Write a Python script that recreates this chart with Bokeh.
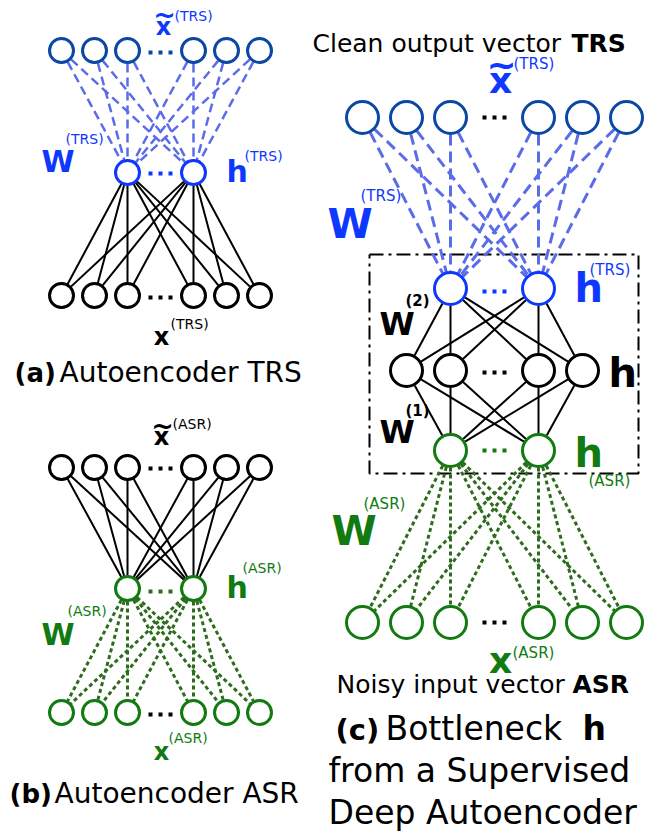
import math
from bokeh.plotting import figure
from bokeh.models import Range1d
from bokeh.core.properties import value
from bokeh.embed import file_html
from bokeh.resources import INLINE

# ---------------- data (diagram content) ----------------
io_units = [0, 1, 2, 4, 5, 6]        # visible units of input/output layers (slot 3 = ellipsis)
hid_units = [2, 4]                   # visible units of the small hidden layers
bn_units = [1, 2, 4, 5]              # visible units of the bottleneck layer
caption_a = ["(a)", "Autoencoder TRS"]
caption_b = ["(b)", "Autoencoder ASR"]
caption_c = ["(c)", "Bottleneck", "h", "from a Supervised", "Deep Autoencoder"]
top_c = ["Clean output vector", "TRS"]
bot_c = ["Noisy input vector", "ASR"]

FONT = value("DejaVu Sans")
DARKBLUE = "#0b48a6"
BLUE = "#0f38ff"
LBLUE = "#5a6ce8"
GREEN = "#117a11"
DGREEN = "#2c6c1c"
BLACK = "#000000"

p = figure(width=646, height=835, x_range=Range1d(0, 646), y_range=Range1d(835, 0),
           output_backend="svg", toolbar_location=None, min_border=0)
p.axis.visible = False
p.grid.visible = False
p.outline_line_color = None
p.background_fill_color = "white"
p.border_fill_color = "white"


def layer(units, x0, dx, y):
    return [(x0 + dx * u, y) for u in units]


def edges(A, ra, B, rb, color, width, dash=None):
    x0s, y0s, x1s, y1s = [], [], [], []
    for (ax, ay) in A:
        for (bx, by) in B:
            d = math.hypot(bx - ax, by - ay)
            ux, uy = (bx - ax) / d, (by - ay) / d
            x0s.append(ax + ux * ra); y0s.append(ay + uy * ra)
            x1s.append(bx - ux * rb); y1s.append(by - uy * rb)
    kw = dict(line_color=color, line_width=width)
    if dash:
        kw["line_dash"] = dash
    p.segment(x0s, y0s, x1s, y1s, **kw)


def nodes(L, r, color, lw=3):
    p.circle([a for a, _ in L], [b for _, b in L], radius=r, fill_color="white",
             line_color=color, line_width=lw)


def dots(xc, y, color, span=24):
    p.segment([xc - span / 2], [y], [xc + span / 2], [y], line_color=color,
              line_width=4, line_dash="4 6", line_cap="butt")


def txt(x, y, s, size, color=BLACK, bold=False, align="left", base="alphabetic"):
    # y given as baseline for "alphabetic"; converted to a middle anchor
    if base == "alphabetic":
        y = y - 0.36 * size
    p.text([x], [y], text=[s], text_font=FONT, text_font_size=f"{size}px",
           text_font_style="bold" if bold else "normal", text_color=color,
           text_align=align, text_baseline="middle")


# ---------------- panel (a) ----------------
X0, DX, R = 61, 33, 12
a_top = layer(io_units, X0, DX, 50)
a_hid = layer(hid_units, X0, DX, 172)
a_bot = layer(io_units, X0, DX, 295)
edges(a_top, R + 1, a_hid, R + 1, LBLUE, 2.5, "9 5")
edges(a_hid, R + 1, a_bot, R + 1, BLACK, 2)
nodes(a_top, R, DARKBLUE)
nodes(a_hid, R, BLUE)
nodes(a_bot, R, BLACK)
dots(X0 + 3 * DX, 52, DARKBLUE)
dots(X0 + 3 * DX, 173, BLUE)
dots(X0 + 3 * DX, 297, BLACK)

txt(164, 14, "~", 27, BLUE, True, "center", "middle")
txt(163, 35, "x", 24, BLUE, True, "center")
txt(174, 15, "(TRS)", 14, BLUE, base="middle")
txt(41, 172, "W", 30, BLUE, True)
txt(65, 138, "(TRS)", 14, BLUE, base="middle")
txt(226, 182, "h", 30, BLUE, True)
txt(244, 155, "(TRS)", 14, BLUE, base="middle")
txt(161, 345, "x", 24, BLACK, True, "center")
txt(170, 323, "(TRS)", 14, BLACK, base="middle")
txt(14, 382, caption_a[0], 26, BLACK, True)
txt(59, 382, caption_a[1], 28, BLACK)

# ---------------- panel (b) ----------------
b_top = layer(io_units, X0, DX, 467)
b_hid = layer(hid_units, X0, DX, 588)
b_bot = layer(io_units, X0, DX, 712)
edges(b_top, R + 1, b_hid, R + 1, BLACK, 2)
edges(b_hid, R + 1, b_bot, R + 1, DGREEN, 3, "4 3")
nodes(b_top, R, BLACK)
nodes(b_hid, R, GREEN)
nodes(b_bot, R, GREEN)
dots(X0 + 3 * DX, 468, BLACK)
dots(X0 + 3 * DX, 591, DGREEN)
dots(X0 + 3 * DX, 714, BLACK)

txt(162, 425, "~", 27, BLACK, True, "center", "middle")
txt(161, 445, "x", 24, BLACK, True, "center")
txt(172, 423, "(ASR)", 14, BLACK, base="middle")
txt(226, 598, "h", 30, GREEN, True)
txt(242, 567, "(ASR)", 14, GREEN, base="middle")
txt(41, 645, "W", 30, GREEN, True)
txt(67, 610, "(ASR)", 14, GREEN, base="middle")
txt(161, 760, "x", 24, GREEN, True, "center")
txt(168, 737, "(ASR)", 14, GREEN, base="middle")
txt(9, 803, caption_b[0], 26, BLACK, True)
txt(54, 803, caption_b[1], 28, BLACK)

# ---------------- panel (c) ----------------
CX0, CDX, CR = 362, 44, 16
c_top = layer(io_units, CX0, CDX, 117)
c_htrs = layer(hid_units, CX0, CDX, 288)
c_mid = layer(bn_units, CX0, CDX, 370)
c_hasr = layer(hid_units, CX0, CDX, 450)
c_bot = layer(io_units, CX0, CDX, 622)

# dash-dot bottleneck box
bx0, bx1, by0, by1 = 369, 638, 254, 473
p.multi_line([[bx0, bx1, bx1, bx0, bx0]], [[by0, by0, by1, by1, by0]],
             line_color=BLACK, line_width=2, line_dash="14 5 3 5")

edges(c_top, CR + 1, c_htrs, CR + 1, LBLUE, 3, "11 6")
edges(c_htrs, CR + 1, c_mid, CR + 1, BLACK, 2)
edges(c_mid, CR + 1, c_hasr, CR + 1, BLACK, 2)
edges(c_hasr, CR + 1, c_bot, CR + 1, DGREEN, 3, "4 3")
nodes(c_top, CR, DARKBLUE)
nodes(c_htrs, CR, BLUE)
nodes(c_mid, CR, BLACK)
nodes(c_hasr, CR, GREEN)
nodes(c_bot, CR, GREEN)
cm = CX0 + 3 * CDX
dots(cm, 117, BLACK)
dots(cm, 291, BLUE)
dots(cm, 372, BLACK)
dots(cm, 450, GREEN)
dots(cm, 622, BLACK)

txt(312, 52, top_c[0], 25, BLACK)
txt(571, 52, top_c[1], 25, BLACK, True)
txt(501, 64, "~", 36, BLUE, True, "center", "middle")
txt(500, 93, "x", 36, BLUE, True, "center")
txt(513, 63, "(TRS)", 15, BLUE, base="middle")
txt(327, 238, "W", 41, BLUE, True)
txt(360, 195, "(TRS)", 15, BLUE, base="middle")
txt(574, 302, "h", 40, BLUE, True)
txt(589, 269, "(TRS)", 15, BLUE, base="middle")
txt(379, 335, "W", 32, BLACK, True)
txt(405, 300, "(2)", 15, BLACK, True, base="middle")
txt(608, 387, "h", 40, BLACK, True)
txt(379, 443, "W", 32, BLACK, True)
txt(405, 410, "(1)", 15, BLACK, True, base="middle")
txt(574, 467, "h", 40, GREEN, True)
txt(588, 480, "(ASR)", 15, GREEN, base="middle")
txt(331, 545, "W", 41, GREEN, True)
txt(363, 503, "(ASR)", 15, GREEN, base="middle")
txt(500, 673, "x", 36, GREEN, True, "center")
txt(512, 652, "(ASR)", 15, GREEN, base="middle")
txt(336, 693, bot_c[0], 25, BLACK)
txt(572, 693, bot_c[1], 25, BLACK, True)
txt(335, 740, caption_c[0], 29, BLACK, True)
txt(385, 740, caption_c[1], 33, BLACK)
txt(582, 740, caption_c[2], 33, BLACK, True)
txt(328, 782, caption_c[3], 33, BLACK)
txt(328, 824, caption_c[4], 33, BLACK)

open("out.html", "w").write(file_html(p, INLINE))
